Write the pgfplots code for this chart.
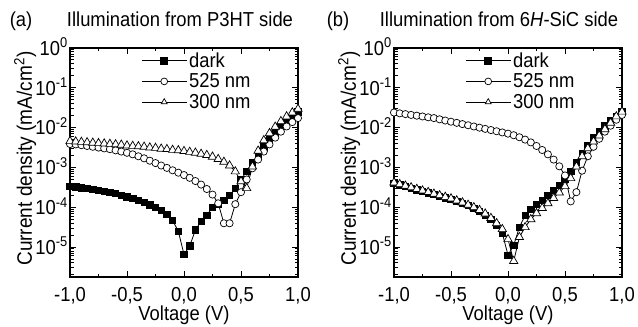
\documentclass[border=0pt]{standalone}
\usepackage{fontspec}
\setmainfont{Liberation Sans}[FakeStretch=0.91]
\setsansfont{Liberation Sans}[FakeStretch=0.91]
\usepackage{pgfplots}
\usepackage{pgfplotstable}
\pgfplotsset{compat=1.18}
\newcommand\ff{\fontsize{20.3}{24}\selectfont}
\newcommand\fl{\fontsize{21}{25}\selectfont}

% ---------------- data (a): illumination from P3HT side
\pgfplotstableread{
x y
-1.00 3.39e-4
-0.95 3.24e-4
-0.90 3.09e-4
-0.85 2.95e-4
-0.80 2.82e-4
-0.75 2.69e-4
-0.70 2.51e-4
-0.65 2.40e-4
-0.60 2.24e-4
-0.55 2.00e-4
-0.50 1.82e-4
-0.45 1.66e-4
-0.40 1.48e-4
-0.35 1.32e-4
-0.30 1.15e-4
-0.25 1.00e-4
-0.20 8.32e-5
-0.15 6.61e-5
-0.10 4.68e-5
-0.05 2.51e-5
0.00 6.61e-6
0.05 1.07e-5
0.10 2.69e-5
0.15 4.47e-5
0.20 6.31e-5
0.25 1.00e-4
0.30 1.20e-4
0.35 1.51e-4
0.40 2.00e-4
0.45 3.02e-4
0.50 5.01e-4
0.55 7.94e-4
0.60 1.32e-3
0.65 2.09e-3
0.70 3.31e-3
0.75 5.01e-3
0.80 7.41e-3
0.85 1.07e-2
0.90 1.48e-2
0.95 2.00e-2
1.00 2.51e-2
}\adark
\pgfplotstableread{
x y
-1.00 3.89e-3
-0.95 3.80e-3
-0.90 3.63e-3
-0.85 3.47e-3
-0.80 3.31e-3
-0.75 3.16e-3
-0.70 3.02e-3
-0.65 2.88e-3
-0.60 2.69e-3
-0.55 2.51e-3
-0.50 2.34e-3
-0.45 2.14e-3
-0.40 1.91e-3
-0.35 1.70e-3
-0.30 1.48e-3
-0.25 1.29e-3
-0.20 1.12e-3
-0.15 9.77e-4
-0.10 8.51e-4
-0.05 7.41e-4
0.00 6.46e-4
0.05 5.50e-4
0.10 4.57e-4
0.15 3.72e-4
0.20 2.88e-4
0.25 2.09e-4
0.30 1.26e-4
0.35 3.98e-5
0.40 3.98e-5
0.45 1.20e-4
0.50 2.40e-4
0.55 5.01e-4
0.60 9.55e-4
0.65 1.58e-3
0.70 2.51e-3
0.75 3.80e-3
0.80 5.62e-3
0.85 7.94e-3
0.90 1.07e-2
0.95 1.38e-2
1.00 1.74e-2
}\agreen
\pgfplotstableread{
x y
-1.00 4.57e-3
-0.95 4.47e-3
-0.90 4.37e-3
-0.85 4.27e-3
-0.80 4.17e-3
-0.75 4.07e-3
-0.70 3.98e-3
-0.65 3.89e-3
-0.60 3.80e-3
-0.55 3.72e-3
-0.50 3.55e-3
-0.45 3.47e-3
-0.40 3.39e-3
-0.35 3.31e-3
-0.30 3.16e-3
-0.25 3.09e-3
-0.20 2.95e-3
-0.15 2.88e-3
-0.10 2.75e-3
-0.05 2.69e-3
0.00 2.57e-3
0.05 2.45e-3
0.10 2.34e-3
0.15 2.19e-3
0.20 2.04e-3
0.25 1.86e-3
0.30 1.62e-3
0.35 1.38e-3
0.40 1.12e-3
0.45 7.94e-4
0.50 4.47e-4
0.55 3.02e-4
0.60 1.05e-3
0.65 2.63e-3
0.70 4.79e-3
0.75 7.24e-3
0.80 1.05e-2
0.85 1.45e-2
0.90 1.91e-2
0.95 2.40e-2
1.00 2.95e-2
}\auv
% ---------------- data (b): illumination from 6H-SiC side
\pgfplotstableread{
x y
-1.00 3.98e-4
-0.95 3.63e-4
-0.90 3.31e-4
-0.85 3.02e-4
-0.80 2.75e-4
-0.75 2.51e-4
-0.70 2.29e-4
-0.65 2.09e-4
-0.60 1.91e-4
-0.55 1.74e-4
-0.50 1.58e-4
-0.45 1.41e-4
-0.40 1.26e-4
-0.35 1.10e-4
-0.30 9.33e-5
-0.25 7.94e-5
-0.20 6.31e-5
-0.15 5.01e-5
-0.10 3.55e-5
-0.05 2.24e-5
0.00 6.31e-6
0.05 1.12e-5
0.10 3.16e-5
0.15 6.31e-5
0.20 8.91e-5
0.25 1.17e-4
0.30 1.51e-4
0.35 2.00e-4
0.40 2.63e-4
0.45 3.55e-4
0.50 5.01e-4
0.55 7.94e-4
0.60 1.35e-3
0.65 2.29e-3
0.70 3.63e-3
0.75 5.50e-3
0.80 7.94e-3
0.85 1.10e-2
0.90 1.48e-2
0.95 1.95e-2
1.00 2.51e-2
}\bdark
\pgfplotstableread{
x y
-1.00 2.40e-2
-0.95 2.29e-2
-0.90 2.19e-2
-0.85 2.09e-2
-0.80 2.00e-2
-0.75 1.91e-2
-0.70 1.82e-2
-0.65 1.74e-2
-0.60 1.62e-2
-0.55 1.51e-2
-0.50 1.41e-2
-0.45 1.32e-2
-0.40 1.23e-2
-0.35 1.15e-2
-0.30 1.07e-2
-0.25 1.00e-2
-0.20 9.33e-3
-0.15 8.71e-3
-0.10 8.13e-3
-0.05 7.59e-3
0.00 7.08e-3
0.05 6.46e-3
0.10 5.75e-3
0.15 5.01e-3
0.20 4.27e-3
0.25 3.47e-3
0.30 2.75e-3
0.35 2.14e-3
0.40 1.58e-3
0.45 1.07e-3
0.50 6.31e-4
0.55 1.41e-4
0.60 2.40e-4
0.65 8.32e-4
0.70 1.91e-3
0.75 3.31e-3
0.80 5.25e-3
0.85 7.94e-3
0.90 1.12e-2
0.95 1.58e-2
1.00 2.09e-2
}\bgreen
\pgfplotstableread{
x y
-1.00 4.17e-4
-0.95 3.80e-4
-0.90 3.47e-4
-0.85 3.16e-4
-0.80 2.88e-4
-0.75 2.63e-4
-0.70 2.40e-4
-0.65 2.19e-4
-0.60 2.00e-4
-0.55 1.82e-4
-0.50 1.66e-4
-0.45 1.48e-4
-0.40 1.32e-4
-0.35 1.15e-4
-0.30 1.00e-4
-0.25 8.51e-5
-0.20 6.92e-5
-0.15 5.37e-5
-0.10 3.98e-5
-0.05 2.82e-5
0.00 1.58e-5
0.05 4.47e-6
0.10 1.78e-5
0.15 3.16e-5
0.20 5.01e-5
0.25 7.08e-5
0.30 9.55e-5
0.35 1.26e-4
0.40 1.70e-4
0.45 2.34e-4
0.50 3.39e-4
0.55 5.37e-4
0.60 1.05e-3
0.65 1.91e-3
0.70 3.02e-3
0.75 4.47e-3
0.80 6.31e-3
0.85 9.12e-3
0.90 1.32e-2
0.95 1.91e-2
1.00 2.51e-2
}\buv

\tikzset{
  sdark/.style={black, line width=0.8bp, mark=square*, mark size=3.2bp, mark options={solid, fill=black}},
  sgreen/.style={black, line width=0.8bp, mark=*, mark size=3.6bp, mark options={solid, fill=white, line width=0.7bp}},
  suv/.style={black, line width=0.8bp, mark=triangle*, mark size=4.8bp, mark options={solid, fill=white, line width=0.7bp}},
}
\pgfplotsset{
  myleg/.style={legend image code/.code={%
    \draw[##1, mark=none] (0bp,0bp) -- (45bp,0bp);
    \draw[##1, only marks, mark size=3.4bp] plot coordinates {(22.5bp,0bp)};}},
  jv/.style={
    scale only axis, width=228bp, height=229bp,
    xmin=-1, xmax=1, ymin=1.78e-6, ymax=1,
    axis line style={line width=1.2bp},
    every tick/.style={black, line width=1bp},
    major tick length=6bp, minor tick length=3.5bp,
    tick align=inside,
    xtick={-1,-0.5,0,0.5,1},
    minor xtick={-0.75,-0.25,0.25,0.75},
    xticklabels={{-1,0},{-0,5},{0,0},{0,5},{1,0}},
    ytick={1e-5,1e-4,1e-3,1e-2,1e-1,1},
    yticklabels={10\textsuperscript{-5},10\textsuperscript{-4},10\textsuperscript{-3},10\textsuperscript{-2},10\textsuperscript{-1},10\textsuperscript{0}},
    minor ytick={2e-6,3e-6,4e-6,5e-6,6e-6,7e-6,8e-6,9e-6,
      2e-5,3e-5,4e-5,5e-5,6e-5,7e-5,8e-5,9e-5,
      2e-4,3e-4,4e-4,5e-4,6e-4,7e-4,8e-4,9e-4,
      2e-3,3e-3,4e-3,5e-3,6e-3,7e-3,8e-3,9e-3,
      2e-2,3e-2,4e-2,5e-2,6e-2,7e-2,8e-2,9e-2,
      2e-1,3e-1,4e-1,5e-1,6e-1,7e-1,8e-1,9e-1},
    tick label style={font=\ff},
    xticklabel style={anchor=base, inner sep=0pt, yshift=-24.5bp},
    yticklabel style={anchor=base east, inner xsep=0pt, xshift=-2bp, yshift=-7.2bp},
    xlabel={Voltage (V)},
    ylabel={Current density (mA/cm\textsuperscript{2})},
    xlabel style={font=\ff, inner sep=0pt, at={(axis description cs:0.5,-0.192)}, anchor=base},
    ylabel style={font=\fl, at={(axis description cs:-0.197,0.517)}, anchor=center},
    legend style={draw=none, fill=none, font=\ff, at={(axis description cs:0.312,0.99)},
      anchor=north west, inner sep=0pt, row sep=1bp,
      nodes={inner xsep=2bp}},
    legend cell align=left,
  },
}

\begin{document}
\begin{tikzpicture}
\useasboundingbox (-70bp,-50bp) rectangle (568bp,277bp);
\begin{axis}[ymode=log, jv]
  \addplot[sdark, myleg] table[x=x,y=y] {\adark};
  \addplot[sgreen, myleg] table[x=x,y=y] {\agreen};
  \addplot[suv, myleg] table[x=x,y=y] {\auv};
  \legend{dark,525 nm,300 nm}
\end{axis}
\node[font=\ff, anchor=base] at (-49bp,250bp) {(a)};
\node[font=\ff, anchor=base] at (110bp,250bp) {Illumination from P3HT side};
\begin{axis}[ymode=log, jv, at={(324bp,0bp)}]
  \addplot[sdark, myleg] table[x=x,y=y] {\bdark};
  \addplot[sgreen, myleg] table[x=x,y=y] {\bgreen};
  \addplot[suv, myleg] table[x=x,y=y] {\buv};
  \legend{dark,525 nm,300 nm}
\end{axis}
\node[font=\ff, anchor=base] at (268bp,250bp) {(b)};
\node[font=\ff, anchor=base] at (429bp,250bp) {Illumination from 6\textit{H}-SiC side};
\end{tikzpicture}
\end{document}
